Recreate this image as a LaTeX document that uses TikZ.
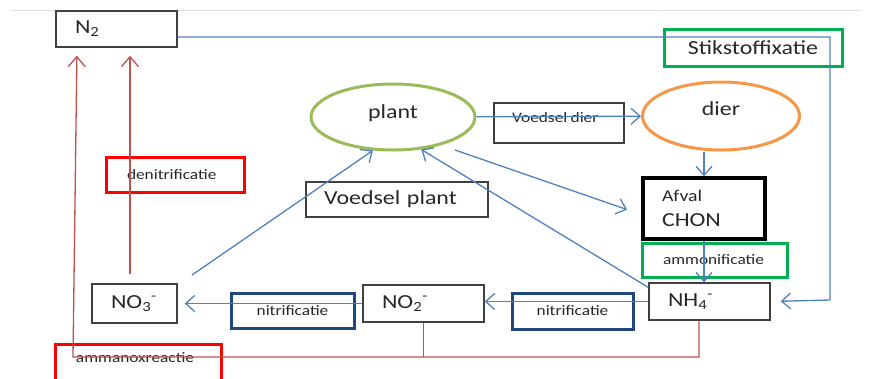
\documentclass[tikz,border=0pt]{standalone}
\usepackage{fontspec}
\setmainfont{Carlito}[FakeStretch=1.2]
\usetikzlibrary{arrows.meta,shapes.geometric}

\definecolor{blauw}{RGB}{79,129,189}
\definecolor{rood}{RGB}{192,80,77}
\definecolor{felrood}{RGB}{255,0,0}
\definecolor{groen}{RGB}{0,176,80}
\definecolor{donkerblauw}{RGB}{31,73,125}
\definecolor{olijf}{RGB}{155,187,89}
\definecolor{oranje}{RGB}{247,150,70}
\definecolor{rand}{RGB}{64,64,64}
\definecolor{tekst}{RGB}{40,40,40}

\newcommand{\klein}{\fontsize{14.5}{17}\selectfont}
\newcommand{\groot}{\fontsize{20}{24}\selectfont}

\begin{document}
\begin{tikzpicture}[x=1bp,y=-1bp,
    vak/.style={draw=rand, line width=1.4bp, rectangle, text=tekst},
    proces/.style={draw, line width=3bp, rectangle, text=tekst},
    wolk/.style={ellipse, line width=3bp, text=tekst}]
    \useasboundingbox (0,0) rectangle (874,378);
    \draw[black!12, line width=1bp] (10,10) -- (862,10);

    % stoffen
    \begin{scope}[every node/.style={vak, align=left, inner xsep=19bp}]
        \node(n2) at (116.5,29) [text width=83bp, minimum height=36bp] {\groot N\textsubscript{2}};
        \node(nh4) at (709.5,301.5) [text width=83bp, minimum height=37bp] {\groot NH\textsubscript{4}\textsuperscript{-}};
        \node(no2) at (423.5,303.5) [text width=83bp, minimum height=37bp] {\groot NO\textsubscript{2}\textsuperscript{-}};
        \node(no3) at (134.5,303.5) [text width=47bp, minimum height=39bp] {\groot NO\textsubscript{3}\textsuperscript{-}};
        \node(vplant) at (397,199.5) [text width=146bp, minimum height=35bp, inner xsep=18bp] {\groot Voedsel\ \ plant};
        \node(vdier) at (559,123) [text width=94bp, minimum height=40bp, inner xsep=18bp, text depth=12bp] {\klein Voedsel dier};
        \node(afval) at (704,208.5) [draw=black, line width=3.5bp, text width=84bp, minimum height=61bp, font=\groot] {{\fontsize{16.5}{20}\selectfont Afval}\\[1bp]CHON};
    \end{scope}

    % processen
    \begin{scope}[every node/.style={proces}]
        \node(fix) at (753,47.5) [draw=groen, minimum width=178bp, minimum height=37bp] {\groot Stikstoffixatie};
        \node(ammon) at (714.5,260) [draw=groen, minimum width=145bp, minimum height=34bp, text width=103bp, inner xsep=21bp, align=left] {\klein ammonificatie};
        \node(nitr1) at (572.5,311) [draw=donkerblauw, minimum width=121bp, minimum height=36bp] {\klein nitrificatie};
        \node(nitr2) at (292.5,311) [draw=donkerblauw, minimum width=123bp, minimum height=35bp] {\klein nitrificatie};
        \node(denit) at (175,174.5) [draw=felrood, minimum width=138bp, minimum height=35bp, text width=96bp, inner xsep=21bp, align=left] {\klein denitrificatie};
        \node(anam) at (138.5,362) [draw=felrood, minimum width=165bp, minimum height=36bp, text width=125bp, inner xsep=20bp, align=left, text depth=9bp] {\klein ammanoxreactie};
    \end{scope}

    \begin{scope}[every node/.style={wolk}]
        \node(plant) at (393,117) [draw=olijf, minimum width=164bp, minimum height=66bp, text depth=10bp] {\groot plant};
        \node(dier) at (721,116) [draw=oranje, minimum width=157bp, minimum height=68bp, text depth=14bp] {\groot dier};
    \end{scope}

    \coordinate (p1) at (192,275);
    \coordinate (p3) at (455,150);
    \coordinate (hoek1) at (830,37);
    \coordinate (hoek2) at (830,300);
    \coordinate (anker) at (73,357);

    % blauwe pijlen
    \begin{scope}[every edge/.style={draw, blauw, line width=1.3bp, -{Straight Barb[length=9bp,width=16bp]}}]
        \path(plant) edge[] (dier);
        \path(afval.north |- dier.south) edge[] (afval);
        \path(afval.south) edge[] (afval.south |- nh4.north);
        \path(nh4) edge[] (nh4.west -| no2.east);
        \path(no2) edge[shorten >=7bp] (no2.west -| no3.east);
        \path(p1) edge[] (plant.239);
        \path(nh4.167) edge[] (plant.311);
        \path(p3) edge[shorten >=15bp] ([yshift=-6bp]afval.west);
        \draw[blauw, line width=1.3bp, -{Straight Barb[length=9bp,width=16bp]}, shorten >=10bp]
            ([yshift=-8bp]n2.east) -- (hoek1) -- (hoek2) -- (nh4.east);
    \end{scope}

    % rode pijlen
    \begin{scope}[every edge/.style={draw, rood, line width=1.3bp, -{Straight Barb[length=10bp,width=17bp]}}]
        \path([xshift=-4.5bp]no3.north) edge[shorten <=9bp, shorten >=8bp] ([xshift=-4.5bp]no3.north |- n2.south);
        \draw[rood, line width=1.3bp, -{Straight Barb[length=10bp,width=17bp]}, shorten >=8bp]
            ([xshift=-10.5bp]nh4.south) |- (anker) -- ([xshift=-39.5bp]n2.south);
        \draw[rood, line width=1.3bp] (no2.south) -- (no2.south |- anker);
    \end{scope}
\end{tikzpicture}
\end{document}
